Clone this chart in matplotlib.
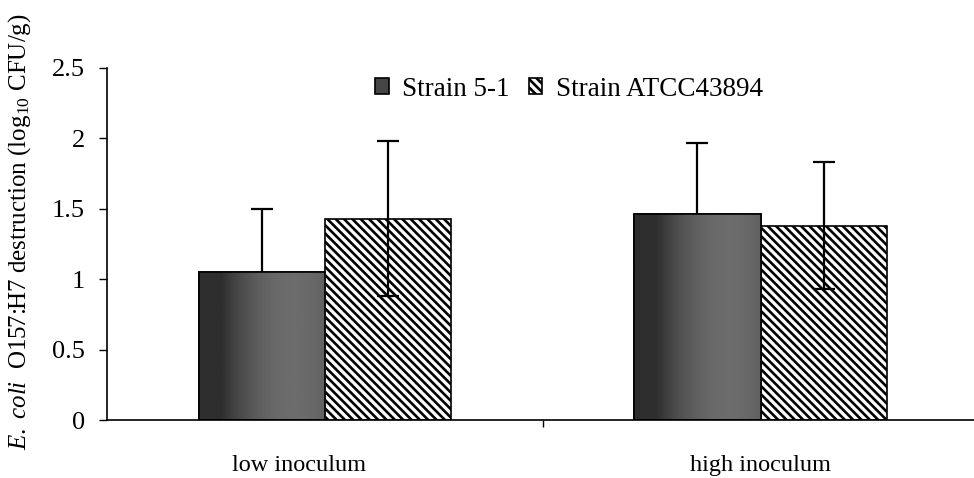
import matplotlib
matplotlib.use("Agg")
import matplotlib.pyplot as plt
import numpy as np

plt.rcParams['font.family'] = ['Liberation Serif', 'DejaVu Serif']
plt.rcParams['mathtext.fontset'] = 'custom'
plt.rcParams['mathtext.rm'] = 'Liberation Serif'
plt.rcParams['mathtext.it'] = 'Liberation Serif:italic'
plt.rcParams['hatch.linewidth'] = 1.9

# data
categories = ['low inoculum', 'high inoculum']
series = ['Strain 5-1', 'Strain ATCC43894']
strain_51 = [1.05, 1.46]
strain_51_err = [0.45, 0.51]
strain_atcc = [1.43, 1.38]
strain_atcc_err = [0.55, 0.45]
yticks = [0, 0.5, 1, 1.5, 2, 2.5]

fig = plt.figure(figsize=(9.74, 4.78), dpi=100)
ax = fig.add_axes([0.11, 0.121, 0.89, 0.737])

x = np.arange(len(categories))
w = 0.29

# dark bars: error bars sit behind so only the upper half shows
ax.errorbar(x - w / 2, strain_51, yerr=strain_51_err, fmt='none', ecolor='black',
            elinewidth=1.6, capsize=8, capthick=1.6, zorder=1)
dark = ax.bar(x - w / 2, strain_51, w, color='#454545', edgecolor='black', linewidth=1.2,
              label=series[0], zorder=2)
ax.bar(x + w / 2, strain_atcc, w, color='white', edgecolor='black', linewidth=1.2,
       hatch='\\\\\\\\', label=series[1], zorder=2)
ax.errorbar(x + w / 2, strain_atcc, yerr=strain_atcc_err, fmt='none', ecolor='black',
            elinewidth=1.6, capsize=8, capthick=1.6, zorder=3)

# soft grey shading inside the dark bars, like the scanned print
g = np.linspace(0, 1, 128)
g = np.clip(1 - 3.0 * (g - 0.75) ** 2, 0, 1)
grad = np.tile(g, (2, 1))
cmap = matplotlib.colors.LinearSegmentedColormap.from_list('g', ['#2e2e2e', '#6c6c6c'])
for p in dark:
    x0, y0 = p.get_x(), p.get_y()
    im = ax.imshow(grad, cmap=cmap, vmin=0, vmax=1, aspect='auto', interpolation='bilinear',
                   extent=[x0, x0 + p.get_width(), y0, y0 + p.get_height()], zorder=2.1)
    im.set_clip_path(p)
    edge = plt.Rectangle((x0, y0), p.get_width(), p.get_height(), fill=False,
                         edgecolor='black', linewidth=1.2, zorder=2.2)
    ax.add_patch(edge)

ax.set_xlim(-0.5, 1.49)
ax.set_ylim(0, 2.5)
ax.set_yticks(yticks)
ax.set_yticklabels(['0', '0.5', '1', '1.5', '2', '2.5'], fontsize=19)
ax.set_xticks([0.5])
ax.set_xticklabels([''])
ax.tick_params(axis='y', direction='out', length=6, width=1, pad=10)
ax.tick_params(axis='x', direction='out', length=5, width=1)
for i, c in enumerate(categories):
    ax.text(i - 0.06 * (1 - i), -0.32, c, ha='center', va='center', fontsize=17.5)

ax.spines['top'].set_visible(False)
ax.spines['right'].set_visible(False)
ax.spines['left'].set_linewidth(1.2)
ax.spines['bottom'].set_linewidth(1.2)

ax.set_ylabel(r'$\mathit{E.\ coli}$  O157:H7 destruction (log$_{10}$ CFU/g)', fontsize=18)
ax.yaxis.set_label_coords(-0.086, 0.534)

ax.legend(loc='center', bbox_to_anchor=(0.533, 0.94), ncol=2, frameon=False,
          fontsize=19.5, handlelength=0.5, handleheight=0.55, handletextpad=0.5,
          columnspacing=0.7, borderpad=0)

fig.savefig('out.png', dpi=100)
